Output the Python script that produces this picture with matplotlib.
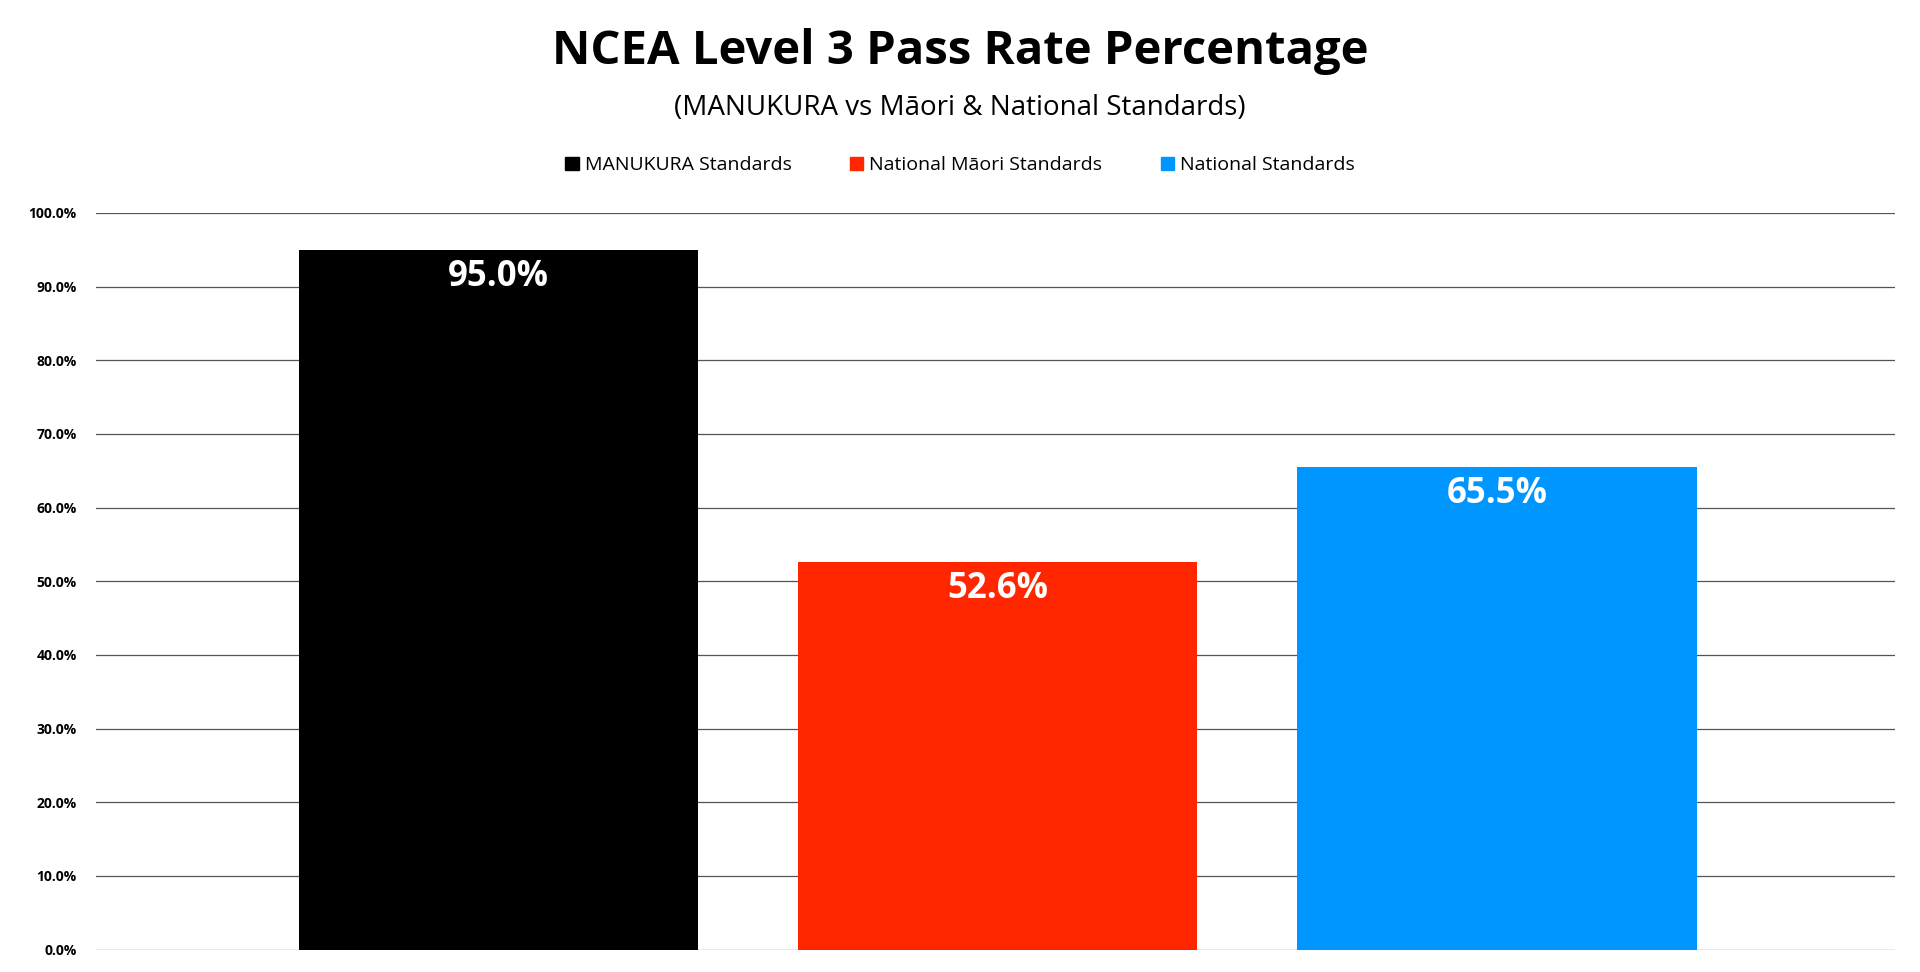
import matplotlib
matplotlib.use("Agg")
import matplotlib.pyplot as plt
from matplotlib.ticker import FuncFormatter, MultipleLocator
from matplotlib.patches import Patch

categories = ["MANUKURA Standards", "National Māori Standards", "National Standards"]
values = [95.0, 52.6, 65.5]
colors = ["#000000", "#ff2600", "#0096ff"]

plt.rcParams['font.family'] = ['Open Sans', 'DejaVu Sans']
fig = plt.figure(figsize=(19.2, 9.72), dpi=100)
ax = fig.add_axes([0.05, 0.023, 0.937, 0.758])
x = list(range(len(categories)))
ax.bar(x, values, width=0.8, color=colors, zorder=3)
for xi, v in zip(x, values):
    ax.text(xi, v - 1.2, f"{v:.1f}%", ha='center', va='top', color='white',
            fontsize=25, fontweight='bold', zorder=4)
ax.set_xlim(-0.806, 2.797)
ax.set_ylim(0, 100)
ax.yaxis.set_major_locator(MultipleLocator(10))
ax.yaxis.set_major_formatter(FuncFormatter(lambda v, p: f"{v:.1f}%"))
ax.grid(axis='y', color='#555555', linewidth=0.9, zorder=0)
for s in ax.spines.values():
    s.set_visible(False)
ax.set_xticks([])
ax.tick_params(axis='y', length=0, labelsize=10, pad=14)
for t in ax.get_yticklabels():
    t.set_fontweight('bold')
fig.text(0.5, 0.947, "NCEA Level 3 Pass Rate Percentage", ha='center', va='center',
         fontsize=34, fontweight='bold')
fig.text(0.5, 0.889, "(MANUKURA vs Māori & National Standards)", ha='center', va='center',
         fontsize=20, fontweight='medium')
handles = [Patch(color=c) for c in colors]
fig.legend(handles, categories, loc='center', bbox_to_anchor=(0.5, 0.83), ncol=3,
           frameon=False, fontsize=14, handlelength=0.7, handleheight=0.7,
           handletextpad=0.3, columnspacing=3)
fig.savefig("out.png", dpi=100)
